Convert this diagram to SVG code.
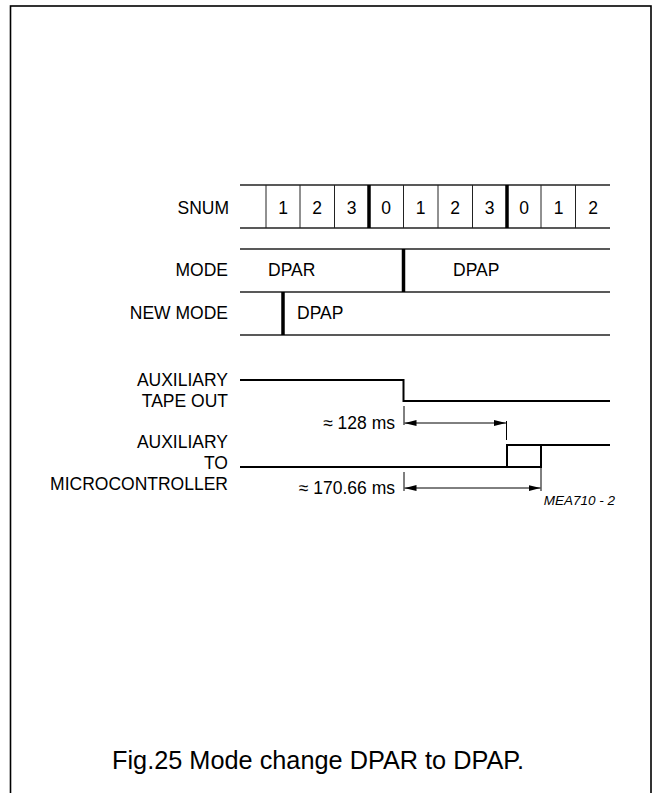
<svg xmlns="http://www.w3.org/2000/svg" width="655" height="793" viewBox="0 0 655 793">
<style>
text{font-family:"Liberation Sans",Arial,sans-serif;fill:#000}
.lbl{font-size:17.5px;text-anchor:end}
.cell{font-size:17.5px;text-anchor:middle}
.val{font-size:17.5px}
.row{stroke:#222;stroke-width:1.5;fill:none}
.thin{stroke:#222;stroke-width:1;fill:none}
.thick{stroke:#000;stroke-width:3.5;fill:none}
.sig{stroke:#000;stroke-width:2;fill:none}
.dim{stroke:#000;stroke-width:1;fill:none}
</style>
<defs>
<marker id="ah" viewBox="0 0 12 6" refX="12" refY="3" markerWidth="12" markerHeight="6" markerUnits="userSpaceOnUse" orient="auto-start-reverse">
<path d="M0,0 L12,3 L0,6 Z" fill="#000"/>
</marker>
</defs>
<rect x="10.5" y="6" width="640.5" height="800" fill="none" stroke="#000" stroke-width="1.6"/>

<g id="snum">
<text class="lbl" x="229" y="213.5">SNUM</text>
<line class="row" x1="240" y1="185" x2="610" y2="185"/>
<line class="row" x1="240" y1="228" x2="610" y2="228"/>
<g class="thin">
<line x1="266" y1="185" x2="266" y2="228"/>
<line x1="300" y1="185" x2="300" y2="228"/>
<line x1="334.5" y1="185" x2="334.5" y2="228"/>
<line x1="403.5" y1="185" x2="403.5" y2="228"/>
<line x1="438" y1="185" x2="438" y2="228"/>
<line x1="472.5" y1="185" x2="472.5" y2="228"/>
<line x1="541" y1="185" x2="541" y2="228"/>
<line x1="575.5" y1="185" x2="575.5" y2="228"/>
</g>
<line class="thick" x1="369" y1="185" x2="369" y2="228"/>
<line class="thick" x1="507" y1="185" x2="507" y2="228"/>
<text class="cell" x="283" y="213.5">1</text>
<text class="cell" x="317" y="213.5">2</text>
<text class="cell" x="351.5" y="213.5">3</text>
<text class="cell" x="386" y="213.5">0</text>
<text class="cell" x="420.5" y="213.5">1</text>
<text class="cell" x="455" y="213.5">2</text>
<text class="cell" x="489.5" y="213.5">3</text>
<text class="cell" x="524" y="213.5">0</text>
<text class="cell" x="558.5" y="213.5">1</text>
<text class="cell" x="593" y="213.5">2</text>
</g>

<g id="mode">
<text class="lbl" x="228" y="276">MODE</text>
<line class="row" x1="240" y1="249" x2="610" y2="249"/>
<line class="row" x1="240" y1="292" x2="610" y2="292"/>
<line class="thick" x1="403.5" y1="249" x2="403.5" y2="292"/>
<text class="val" x="268" y="276">DPAR</text>
<text class="val" x="453" y="276">DPAP</text>
</g>

<g id="newmode">
<text class="lbl" x="228" y="319">NEW MODE</text>
<line class="row" x1="240" y1="335" x2="610" y2="335"/>
<line class="thick" x1="283" y1="292" x2="283" y2="335"/>
<text class="val" x="297" y="319">DPAP</text>
</g>

<g id="auxtape">
<text class="lbl" x="228" y="385.5">AUXILIARY</text>
<text class="lbl" x="228" y="406.5">TAPE OUT</text>
<path class="sig" d="M240,380 H403.5 V401 H610"/>
</g>

<g id="auxmicro">
<text class="lbl" x="228" y="448">AUXILIARY</text>
<text class="lbl" x="228" y="469">TO</text>
<text class="lbl" x="228" y="490">MICROCONTROLLER</text>
<path class="sig" d="M240,467 H541 V445"/>
<path class="sig" d="M507,467 V445 H610"/>
</g>

<g id="connectors">
<line class="dim" x1="404" y1="406" x2="404" y2="425"/>
<line class="dim" x1="506.5" y1="421" x2="506.5" y2="440"/>
<line class="dim" x1="404.5" y1="423" x2="506" y2="423" marker-start="url(#ah)" marker-end="url(#ah)"/>
<line class="dim" x1="404" y1="472" x2="404" y2="491"/>
<line class="dim" x1="541" y1="467" x2="541" y2="491"/>
<line class="dim" x1="404.5" y1="488" x2="540.5" y2="488" marker-start="url(#ah)" marker-end="url(#ah)"/>
</g>

<g id="labels">
<text class="lbl" x="395" y="429">≈ 128 ms</text>
<text class="lbl" x="395" y="494">≈ 170.66 ms</text>
<text x="615" y="505" style="font-size:13.5px;font-style:italic;text-anchor:end">MEA710 - 2</text>
<text x="112" y="769" style="font-size:26.5px" textLength="412" lengthAdjust="spacingAndGlyphs">Fig.25 Mode change DPAR to DPAP.</text>
</g>
</svg>
